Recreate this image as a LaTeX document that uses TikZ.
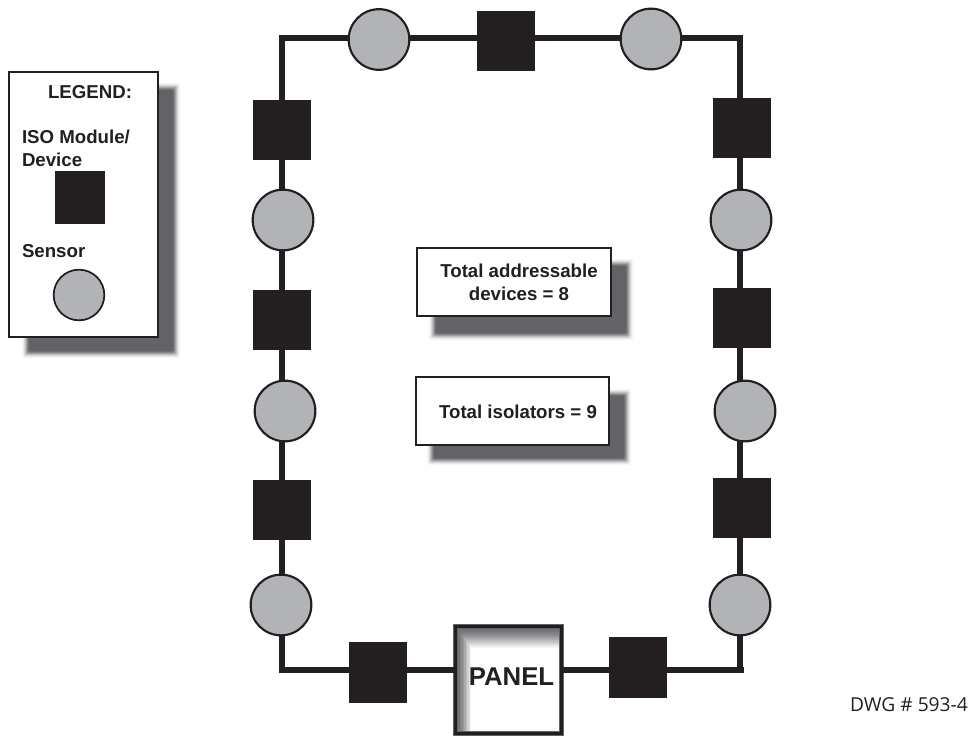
\documentclass[tikz,border=0pt]{standalone}
\usepackage{fontspec}
\setmainfont{Liberation Sans}
\newfontfamily\dwgfont{Open Sans}
\definecolor{ink}{HTML}{231F20}
\definecolor{sensorgray}{HTML}{B1B3B6}
\definecolor{shadowgray}{HTML}{626366}
\tikzset{
  x=0.75pt,y=-0.75pt,
  sq/.style={draw=none,fill=ink,minimum width=43.5pt,minimum height=45pt,inner sep=0pt,outer sep=0pt},
  sensor/.style={circle,draw=ink,line width=1.6pt,fill=sensorgray,minimum size=45.5pt,inner sep=0pt,outer sep=0pt},
  wire/.style={draw=ink,line width=4pt},
  box/.style={draw=ink,line width=1.8pt,fill=white,inner sep=0pt,outer sep=0pt},
  lbl/.style={font=\bfseries\fontsize{14pt}{17.2pt}\selectfont,text=ink,inner sep=0pt,outer sep=0pt,align=left},
  dwg/.style={font=\dwgfont\fontsize{14.4pt}{17pt}\selectfont,text=ink,inner sep=0pt,outer sep=0pt}
}
% soft drop shadow: x1,y1,x2,y2 in picture units
\newcommand{\softshadow}[4]{%
  \foreach \g/\e in {95/5,88/4,75/3,60/2,42/1,25/0,10/-1,0/-2,0/-3}{%
    \fill[white!\g!shadowgray,rounded corners=1.5pt] (#1-\e,#2-\e) rectangle (#3+\e,#4+\e);
  }%
}
\begin{document}
\begin{tikzpicture}
\useasboundingbox (0,0) rectangle (971,736);
% shadows
\softshadow{27}{88}{175}{353}
\softshadow{434}{264}{628}{335}
\softshadow{432}{394}{626}{460}
% legend
\node[box,minimum width=111.5pt,minimum height=198.5pt] (legend) at (83.5,204.5) {};
\node[lbl,anchor=base west] (legtitle) at (48,98) {LEGEND:};
\node[lbl,anchor=base west] (legiso) at (22,143) {ISO Module/};
\node[lbl,anchor=base west] (legdev) at (22,166) {Device};
\node[sq,minimum width=37.5pt,minimum height=39.5pt] (legsq) at (80,197.5) {};
\node[lbl,anchor=base west] (legsen) at (22,257) {Sensor};
\node[sensor,minimum size=38pt,line width=1.3pt] (legc) at (79,295) {};
% info boxes
\node[box,minimum width=145.5pt,minimum height=51pt] (addr) at (514,282) {};
\node[lbl,align=center,anchor=base] (addrt) at (519,300.5) {Total addressable\\[-0.3pt]devices = 8};
\node[box,minimum width=144.5pt,minimum height=51pt] (iso) at (512.5,411) {};
\node[lbl,anchor=base] (isot) at (518,418) {Total isolators = 9};
% loop devices
\coordinate (tl) at (282,38);
\coordinate (trh) at (742,38);
\coordinate (trv) at (740,35);
\coordinate (bl) at (282,670);
\coordinate (brh) at (744,670);
\coordinate (brv) at (740,670);
\node[sensor] (t1) at (379,39.5) {};
\node[sq] (t2) at (505.5,40.5) {};
\node[sensor] (t3) at (651,39) {};
\node[sq] (l1) at (282,130) {};
\node[sensor] (l2) at (283,220) {};
\node[sq] (l3) at (282,320) {};
\node[sensor] (l4) at (285,411) {};
\node[sq] (l5) at (282,510) {};
\node[sensor] (l6) at (281,605) {};
\node[sq] (r1) at (742,128) {};
\node[sensor] (r2) at (741,220) {};
\node[sq] (r3) at (742,318) {};
\node[sensor] (r4) at (745,411) {};
\node[sq] (r5) at (742,508) {};
\node[sensor] (r6) at (740,605) {};
\node[sq,minimum height=45.5pt] (b1) at (378,672.5) {};
\node[sq,minimum height=45.5pt] (b2) at (638,667.5) {};
% panel
\node[draw=none,fill=white,minimum width=79.5pt,minimum height=80pt,inner sep=0pt] (panel) at (508.5,680) {};
\begin{scope}
  \clip (457,628) rectangle (560,732);
  \foreach \i/\g in {0/8,2/12,4/18,6/26,8/35,10/46,12/58,14/70,16/82,18/92,20/100}{%
    \pgfmathsetmacro{\sx}{\i*0.72}%
    \fill[white!\g!shadowgray] (457+\sx,628+\i) rectangle (600,780);
  }
\end{scope}
\draw[ink,line width=2.4pt] (455.5,626.5) rectangle (561.5,733.5);
\draw[shadowgray,line width=0.5pt] (453.5,624.5) rectangle (563.5,735.5);
\draw[shadowgray,line width=0.5pt] (457.5,628.5) rectangle (559.5,731.5);
\node[font=\bfseries\fontsize{19.3pt}{22pt}\selectfont,text=ink,inner sep=0pt,anchor=base] (panelt) at (511.5,685) {PANEL};
% wiring
\draw[wire] (l1.north) -- (tl) -- (t1.west |- tl);
\draw[wire] (t1.east |- tl) -- (t2.west |- tl);
\draw[wire] (t2.east |- tl) -- (t3.west |- tl);
\draw[wire] (t3.east |- tl) -- (trh);
\draw[wire] (trv) -- (r1.north -| trv);
\draw[wire] (l1.south -| tl) -- (l2.north -| tl);
\draw[wire] (l2.south -| tl) -- (l3.north -| tl);
\draw[wire] (l3.south -| tl) -- (l4.north -| tl);
\draw[wire] (l4.south -| tl) -- (l5.north -| tl);
\draw[wire] (l5.south -| tl) -- (l6.north -| tl);
\draw[wire] (l6.south -| tl) -- (bl) -- (b1.west |- bl);
\draw[wire] (b1.east |- bl) -- (panel.west |- bl);
\draw[wire] (panel.east |- brh) -- (b2.west |- brh);
\draw[wire] (b2.east |- brh) -- (brh);
\draw[wire] (brv) -- (r6.south -| brv);
\draw[wire] (r1.south -| trv) -- (r2.north -| trv);
\draw[wire] (r2.south -| trv) -- (r3.north -| trv);
\draw[wire] (r3.south -| trv) -- (r4.north -| trv);
\draw[wire] (r4.south -| trv) -- (r5.north -| trv);
\draw[wire] (r5.south -| trv) -- (r6.north -| trv);
\node[dwg,anchor=base west] (dwgno) at (850,711) {DWG \# 593-4};
\end{tikzpicture}
\end{document}
